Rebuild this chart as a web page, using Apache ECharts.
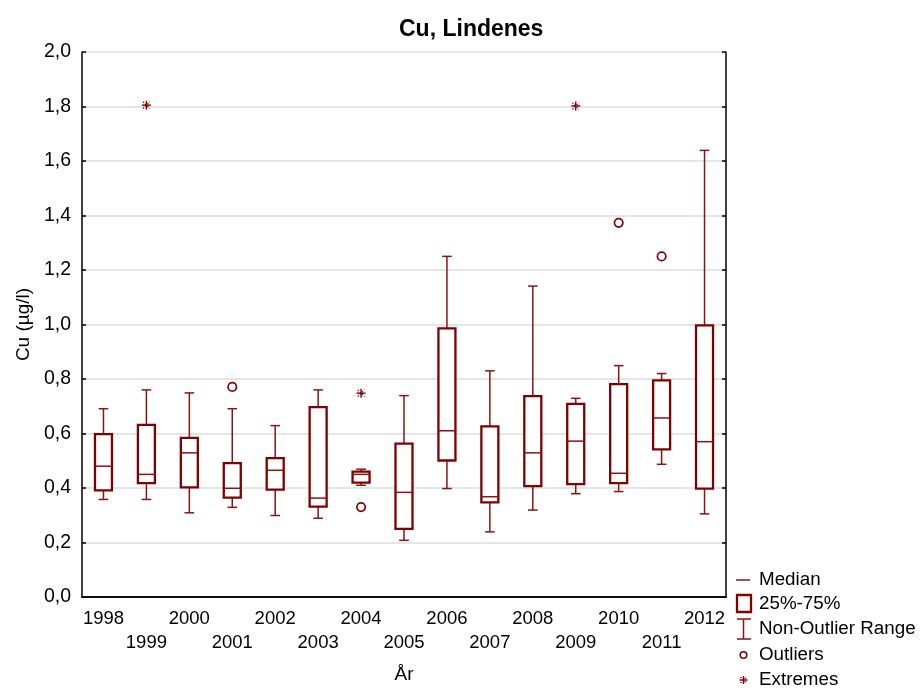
<!DOCTYPE html>
<html>
<head>
<meta charset="utf-8">
<title>Cu, Lindenes</title>
<script src="https://cdn.jsdelivr.net/npm/echarts@6/dist/echarts.min.js"></script>
<style>
  html, body { margin: 0; padding: 0; background: #fff; }
  #chart { width: 922px; height: 689px; }
</style>
</head>
<body>
<div id="chart"></div>
<script>
// Yearly Cu concentration summaries (µg/l)
const years = ['1998','1999','2000','2001','2002','2003','2004','2005','2006','2007','2008','2009','2010','2011','2012'];
const whiskerLow  = [0.358, 0.358, 0.309, 0.329, 0.299, 0.289, 0.410, 0.208, 0.398, 0.239, 0.319, 0.379, 0.387, 0.487, 0.305];
const quart1      = [0.391, 0.418, 0.402, 0.365, 0.394, 0.332, 0.420, 0.250, 0.501, 0.347, 0.407, 0.414, 0.418, 0.542, 0.398];
const medians     = [0.480, 0.450, 0.529, 0.399, 0.465, 0.363, 0.450, 0.384, 0.610, 0.368, 0.529, 0.572, 0.454, 0.657, 0.570];
const quart3      = [0.598, 0.632, 0.584, 0.491, 0.510, 0.697, 0.460, 0.563, 0.986, 0.626, 0.737, 0.709, 0.781, 0.795, 0.997];
const whiskerHigh = [0.691, 0.760, 0.749, 0.691, 0.629, 0.760, 0.469, 0.739, 1.250, 0.830, 1.141, 0.729, 0.849, 0.820, 1.639];
const outlierYears  = ['2001', '2004', '2010', '2011'];
const outlierValues = [0.771, 0.330, 1.373, 1.250];
const extremeYears  = ['1999', '2004', '2009'];
const extremeValues = [1.805, 0.748, 1.802];
const yTicks = [0, 0.2, 0.4, 0.6, 0.8, 1.0, 1.2, 1.4, 1.6, 1.8, 2.0];

const DARK = '#800000';
const THIN = '#8a1414';
const FONT = '"Liberation Sans", Arial, sans-serif';

const boxData = years.map((y, i) => [i, whiskerLow[i], quart1[i], medians[i], quart3[i], whiskerHigh[i]]);
const outlierData = outlierYears.map((y, i) => [years.indexOf(y), outlierValues[i]]);
const extremeData = extremeYears.map((y, i) => [years.indexOf(y), extremeValues[i]]);

function renderBox(params, api) {
  const i = api.value(0);
  const pLow = api.coord([i, api.value(1)]);
  const pQ1 = api.coord([i, api.value(2)]);
  const pMed = api.coord([i, api.value(3)]);
  const pQ3 = api.coord([i, api.value(4)]);
  const pHigh = api.coord([i, api.value(5)]);
  const x = pLow[0];
  const hw = 8.5, cw = 4.8;
  const thin = { stroke: THIN, lineWidth: 1.5 };
  return {
    type: 'group',
    children: [
      { type: 'line', shape: { x1: x, y1: pQ3[1], x2: x, y2: pHigh[1] }, style: thin },
      { type: 'line', shape: { x1: x - cw, y1: pHigh[1], x2: x + cw, y2: pHigh[1] }, style: thin },
      { type: 'line', shape: { x1: x, y1: pQ1[1], x2: x, y2: pLow[1] }, style: thin },
      { type: 'line', shape: { x1: x - cw, y1: pLow[1], x2: x + cw, y2: pLow[1] }, style: thin },
      { type: 'rect', shape: { x: x - hw, y: pQ3[1], width: hw * 2, height: pQ1[1] - pQ3[1] },
        style: { fill: '#ffffff', stroke: DARK, lineWidth: 2.3 } },
      { type: 'line', shape: { x1: x - hw, y1: pMed[1], x2: x + hw, y2: pMed[1] }, style: thin }
    ]
  };
}

function renderOutlier(params, api) {
  const p = api.coord([api.value(0), api.value(1)]);
  return { type: 'circle', shape: { cx: p[0], cy: p[1], r: 4.2 },
    style: { fill: 'none', stroke: DARK, lineWidth: 1.7 } };
}

function starShape(cx, cy, r) {
  const d = r * 0.75;
  const st = { stroke: DARK, lineWidth: 1.4 };
  const dotted = { stroke: DARK, lineWidth: 1.1, lineDash: [1.5, 1.5] };
  return [
    { type: 'line', shape: { x1: cx, y1: cy - r, x2: cx, y2: cy + r }, style: st },
    { type: 'line', shape: { x1: cx - r, y1: cy, x2: cx + r, y2: cy }, style: st },
    { type: 'line', shape: { x1: cx - d, y1: cy - d, x2: cx + d, y2: cy + d }, style: dotted },
    { type: 'line', shape: { x1: cx - d, y1: cy + d, x2: cx + d, y2: cy - d }, style: dotted }
  ];
}

function renderExtreme(params, api) {
  const p = api.coord([api.value(0), api.value(1)]);
  return { type: 'group', children: starShape(p[0], p[1], 4.5) };
}

// Legend drawn as graphics at the lower right
const lx = 736, tx = 759;
const legendItems = [
  { label: 'Median', y: 580 },
  { label: '25%-75%', y: 604 },
  { label: 'Non-Outlier Range', y: 629 },
  { label: 'Outliers', y: 655 },
  { label: 'Extremes', y: 680 }
];
const legendGraphics = [
  { type: 'line', shape: { x1: lx, y1: 580, x2: lx + 14, y2: 580 }, style: { stroke: THIN, lineWidth: 1.5 } },
  { type: 'rect', shape: { x: lx + 1, y: 595, width: 14, height: 17 }, style: { fill: '#fff', stroke: DARK, lineWidth: 2.3 } },
  { type: 'line', shape: { x1: lx + 7.5, y1: 619, x2: lx + 7.5, y2: 639 }, style: { stroke: THIN, lineWidth: 1.5 } },
  { type: 'line', shape: { x1: lx + 1, y1: 619, x2: lx + 15, y2: 619 }, style: { stroke: THIN, lineWidth: 1.5 } },
  { type: 'line', shape: { x1: lx + 1, y1: 639, x2: lx + 15, y2: 639 }, style: { stroke: THIN, lineWidth: 1.5 } },
  { type: 'circle', shape: { cx: lx + 7.5, cy: 655, r: 3.3 }, style: { fill: 'none', stroke: DARK, lineWidth: 1.6 } },
  { type: 'group', children: starShape(lx + 7.5, 680, 4) }
].concat(legendItems.map(it => ({
  type: 'text', x: tx, y: it.y,
  style: { text: it.label, font: '18.8px ' + FONT, fill: '#000', textVerticalAlign: 'middle' }
})));

const chart = echarts.init(document.getElementById('chart'));
chart.setOption({
  animation: false,
  backgroundColor: '#fff',
  textStyle: { fontFamily: FONT },
  title: {
    text: 'Cu, Lindenes', left: 394, top: 13,
    textStyle: { fontSize: 23, fontWeight: 'bold', color: '#000', fontFamily: FONT }
  },
  grid: { left: 82, right: 196, top: 52, bottom: 92, outerBoundsMode: 'none' },
  xAxis: [{
    type: 'category', data: years, position: 'bottom',
    name: 'År', nameLocation: 'middle', nameGap: 68,
    nameTextStyle: { fontSize: 19, color: '#000', fontFamily: FONT },
    axisLine: { lineStyle: { color: '#000', width: 1.5 } },
    axisTick: { inside: true, alignWithLabel: true, length: 4, lineStyle: { color: '#000', width: 1.5 } },
    axisLabel: {
      interval: 0, margin: 10, fontSize: 18.5, color: '#000', lineHeight: 24, fontFamily: FONT,
      formatter: (v, idx) => (idx % 2 === 1 ? '\n' + v : v)
    },
    splitLine: { show: false }
  }, {
    type: 'category', data: years, position: 'top',
    axisLine: { lineStyle: { color: '#000', width: 1.5 } },
    axisTick: { inside: true, alignWithLabel: true, length: 4, lineStyle: { color: '#000', width: 1.5 } },
    axisLabel: { show: false }, splitLine: { show: false }
  }],
  yAxis: [{
    type: 'value', min: 0, max: 2, interval: 0.2, position: 'left',
    name: 'Cu (µg/l)', nameLocation: 'middle', nameGap: 47, nameRotate: 90,
    nameTextStyle: { fontSize: 19, color: '#000', fontFamily: FONT },
    axisLine: { show: true, lineStyle: { color: '#000', width: 1.5 } },
    axisTick: { show: true, inside: true, length: 4, lineStyle: { color: '#000', width: 1.5 } },
    axisLabel: {
      margin: 11, fontSize: 19.5, color: '#000', fontFamily: FONT,
      formatter: v => yTicks.includes(Math.round(v * 10) / 10) ? v.toFixed(1).replace('.', ',') : ''
    },
    splitLine: { show: true, lineStyle: { color: '#dcdcdc', width: 1.5 } }
  }, {
    type: 'value', min: 0, max: 2, interval: 0.2, position: 'right',
    axisLine: { show: true, lineStyle: { color: '#000', width: 1.5 } },
    axisTick: { show: true, inside: true, length: 4, lineStyle: { color: '#000', width: 1.5 } },
    axisLabel: { show: false }, splitLine: { show: false }
  }],
  series: [{
    type: 'custom', name: 'box', renderItem: renderBox, data: boxData,
    encode: { x: 0, y: [1, 2, 3, 4, 5] }, xAxisIndex: 0, yAxisIndex: 0, z: 3
  }, {
    type: 'custom', name: 'outliers', renderItem: renderOutlier, data: outlierData,
    encode: { x: 0, y: 1 }, xAxisIndex: 0, yAxisIndex: 0, z: 4
  }, {
    type: 'custom', name: 'extremes', renderItem: renderExtreme, data: extremeData,
    encode: { x: 0, y: 1 }, xAxisIndex: 0, yAxisIndex: 0, z: 4
  }],
  graphic: legendGraphics
});
</script>
</body>
</html>
